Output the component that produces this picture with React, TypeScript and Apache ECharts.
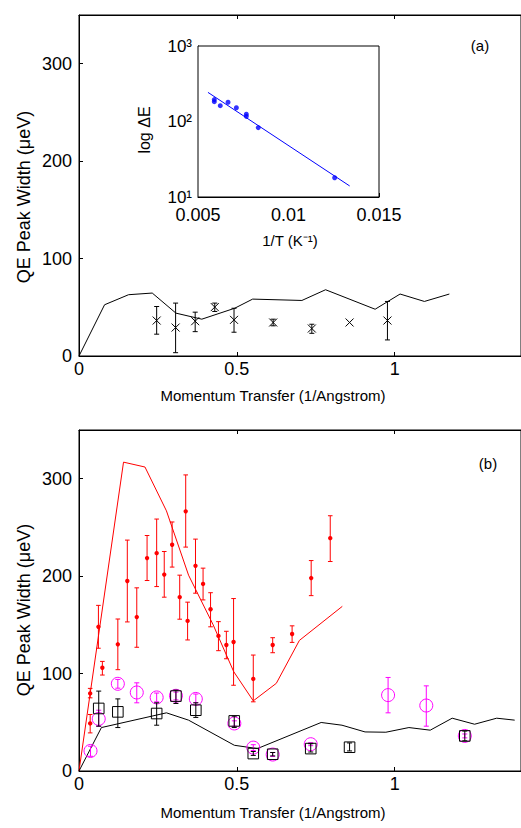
import React, { useEffect, useRef } from "react";
import * as echarts from "echarts";

// ---------- Panel (a) ----------
const aLineQ = [0, 0.081, 0.157, 0.232, 0.307, 0.389, 0.493, 0.55, 0.706, 0.781, 0.938, 1.017, 1.094, 1.173];
const aLineW = [0, 52.6, 62.9, 64.6, 44, 37.8, 49, 58.4, 57, 68, 48, 63.6, 56, 63.6];
const aPtQ = [0.246, 0.306, 0.368, 0.43, 0.491, 0.615, 0.7375, 0.857, 0.977];
const aPtW = [36.4, 29.2, 35.7, 50.2, 37.1, 34.4, 28.2, 34.4, 36.4];
const aPtLo = [22.4, 3.4, 25, 45.7, 24.4, 31, 23.3, 34.4, 16.5];
const aPtHi = [50.8, 54.3, 45, 54.3, 49, 37.8, 32.6, 34.4, 56];

// ---------- Inset ----------
const insInvT = [0.0059, 0.0059, 0.00623, 0.00666, 0.00712, 0.00767, 0.00767, 0.00833, 0.01255];
const insDE = [195, 183, 162, 180, 152, 125, 117, 83, 18];
const insFitT = [0.00555, 0.01338];
const insFitE = [243, 14];

// ---------- Panel (b) ----------
const bRedLineQ = [0, 0.141, 0.209, 0.277, 0.347, 0.425, 0.49, 0.552, 0.625, 0.698, 0.834];
const bRedLineW = [0, 317, 312, 267, 201, 150, 102, 72, 90, 134, 169];
const bBlkLineQ = [0, 0.071, 0.277, 0.347, 0.492, 0.565, 0.767, 0.833, 0.906, 0.972, 1.045, 1.1125, 1.182, 1.253, 1.323, 1.38];
const bBlkLineW = [0, 44.6, 59.7, 52.2, 26.4, 23, 49.8, 47, 40.1, 39.8, 44.6, 41.9, 54.2, 48, 54.2, 52.2];

const bRedQ = [0.0354, 0.0354, 0.0615, 0.074, 0.123, 0.153, 0.183, 0.2156, 0.246, 0.27, 0.295, 0.319, 0.338, 0.344, 0.369, 0.393, 0.4167, 0.4417, 0.4667, 0.4896, 0.552, 0.6135, 0.675, 0.7354, 0.7958];
const bRedW = [79.6, 48.8, 148, 106, 130, 195, 158, 218.5, 223.6, 201.6, 232.2, 178.4, 266.5, 154, 210.6, 192, 166, 138.6, 129.3, 132.4, 94.5, 129.3, 140.6, 198, 239];
const bRedLo = [75.1, 39.1, 126, 98.5, 104, 153, 127, 195.5, 189.3, 178.4, 209.3, 155.8, 229.8, 134.5, 182.5, 175.6, 148, 123.5, 115.2, 88, 71, 121.4, 132, 180, 215];
const bRedHi = [84.8, 58, 170, 112.5, 156, 237, 188, 241.7, 258.6, 225.3, 255.6, 201, 303.9, 173.3, 238, 208.2, 183, 153.3, 143.4, 177, 119, 136.8, 149, 216, 262];

const bMagQ = [0.0365, 0.0625, 0.123, 0.183, 0.246, 0.307, 0.37, 0.492, 0.552, 0.6135, 0.734, 0.979, 1.1, 1.222];
const bMagW = [20.6, 53.5, 89.5, 80.6, 75.5, 77.2, 74, 48.8, 24, 16.9, 27.5, 77.9, 67.2, 36];
const bMagLo = [15.1, 46, 85, 70, 71, 73, 70, 46, 21, 15, 26, 59.7, 46, 34];
const bMagHi = [25.4, 62.4, 94, 90.5, 80, 81, 79, 51.5, 27, 19, 29, 96, 87.4, 38];

const bSqQ = [0.0625, 0.123, 0.246, 0.307, 0.37, 0.4917, 0.552, 0.6135, 0.734, 0.857, 1.222];
const bSqW = [64.2, 60.7, 59, 76.9, 62.4, 51.4, 17.9, 17.2, 23, 24.4, 36];
const bSqLo = [46, 44.6, 47, 69.3, 55, 44.6, 16, 15.5, 19.5, 20.6, 31];
const bSqHi = [82, 74, 70, 83, 70, 56.3, 20, 19, 28, 28.8, 41];

const xTickLabels = [0, 0.5, 1];
const yTickLabels = [0, 100, 200, 300];

const FONT = '"Liberation Sans", Arial, Helvetica, sans-serif';
const TICK = 18;

const zip = (a: number[], b: number[]) => a.map((v, i) => [v, b[i]]);
const zip4 = (a: number[], b: number[], c: number[], d: number[]) => a.map((v, i) => [v, b[i], c[i], d[i]]);

function errSeries(data: number[][], color: string, marker: string, size: number, cap: number, xi: number, yi: number, z: number) {
  return {
    type: "custom",
    xAxisIndex: xi,
    yAxisIndex: yi,
    z,
    silent: true,
    data,
    encode: { x: 0, y: 1 },
    renderItem: (params: any, api: any) => {
      const x = api.value(0), y = api.value(1), lo = api.value(2), hi = api.value(3);
      const c = api.coord([x, y]);
      const a = api.coord([x, lo]);
      const b = api.coord([x, hi]);
      const st = { stroke: color, lineWidth: 1, fill: null };
      const children: any[] = [];
      if (hi > lo) {
        children.push({ type: "line", shape: { x1: a[0], y1: a[1], x2: b[0], y2: b[1] }, style: st });
        children.push({ type: "line", shape: { x1: a[0] - cap, y1: a[1], x2: a[0] + cap, y2: a[1] }, style: st });
        children.push({ type: "line", shape: { x1: b[0] - cap, y1: b[1], x2: b[0] + cap, y2: b[1] }, style: st });
      }
      if (marker === "dot") {
        children.push({ type: "circle", shape: { cx: c[0], cy: c[1], r: size }, style: { fill: color, stroke: null } });
      } else if (marker === "circle") {
        children.push({ type: "circle", shape: { cx: c[0], cy: c[1], r: size }, style: st });
      } else if (marker === "square") {
        children.push({ type: "rect", shape: { x: c[0] - size, y: c[1] - size, width: 2 * size, height: 2 * size }, style: st });
      } else if (marker === "cross") {
        children.push({ type: "line", shape: { x1: c[0] - size, y1: c[1] - size, x2: c[0] + size, y2: c[1] + size }, style: st });
        children.push({ type: "line", shape: { x1: c[0] - size, y1: c[1] + size, x2: c[0] + size, y2: c[1] - size }, style: st });
      }
      return { type: "group", children };
    },
  };
}

const axLine = { show: true, onZero: false, lineStyle: { color: "#000", width: 1 } };
const axTick = { show: true, inside: true, length: 4, lineStyle: { color: "#000", width: 1 } };

function mainX(grid: number, pos: string, labels: boolean) {
  return {
    type: "value",
    gridIndex: grid,
    position: pos,
    min: 0,
    max: 1.4,
    interval: 0.5,
    axisLine: axLine,
    axisTick: axTick,
    splitLine: { show: false },
    axisLabel: {
      show: labels,
      showMaxLabel: false,
      color: "#000",
      fontSize: TICK,
      fontFamily: FONT,
      margin: 4,
      formatter: (v: number) => (xTickLabels.some((t) => Math.abs(t - v) < 1e-9) ? String(v) : ""),
    },
  };
}

function mainY(grid: number) {
  return {
    type: "value",
    gridIndex: grid,
    min: 0,
    max: 350,
    interval: 100,
    axisLine: axLine,
    axisTick: axTick,
    splitLine: { show: false },
    axisLabel: {
      color: "#000",
      fontSize: TICK,
      fontFamily: FONT,
      margin: 7,
      showMaxLabel: false,
      formatter: (v: number) => (yTickLabels.includes(v) ? String(v) : ""),
    },
  };
}

function txt(text: string, x: number, y: number, size: number, rot = 0) {
  return {
    type: "text",
    x,
    y,
    rotation: rot,
    z: 100,
    style: {
      text,
      fill: "#000",
      font: `${size}px ${FONT}`,
      align: "center",
      verticalAlign: "middle",
      textAlign: "center",
      textVerticalAlign: "middle",
    },
  };
}

export default function App() {
  const ref = useRef<HTMLDivElement>(null);
  useEffect(() => {
    if (!ref.current) return;
    const chart = echarts.init(ref.current, undefined, { renderer: "svg" });
    const option: any = {
      animation: false,
      backgroundColor: "#fff",
      textStyle: { fontFamily: FONT },
      grid: [
        { left: 79, top: 15, width: 448, height: 341, show: true, borderColor: "#000", borderWidth: 1, backgroundColor: "transparent" },
        { left: 79, top: 430, width: 448, height: 341, show: true, borderColor: "#000", borderWidth: 1, backgroundColor: "transparent" },
        { left: 198, top: 46, width: 181, height: 151, show: true, borderColor: "#000", borderWidth: 1, backgroundColor: "#fff", z: 5 },
      ],
      xAxis: [
        mainX(0, "bottom", true),
        mainX(1, "bottom", true),
        mainX(0, "top", false),
        mainX(1, "top", false),
        {
          type: "value",
          gridIndex: 2,
          min: 0.005,
          max: 0.015,
          interval: 0.005,
          axisLine: axLine,
          axisTick: axTick,
          splitLine: { show: false },
          axisLabel: { color: "#000", fontSize: TICK, lineHeight: 14, fontFamily: FONT, margin: 11, hideOverlap: false },
        },
      ],
      yAxis: [
        mainY(0),
        mainY(1),
        {
          type: "log",
          gridIndex: 2,
          logBase: 10,
          min: 10,
          max: 1000,
          axisLine: axLine,
          axisTick: axTick,
          splitLine: { show: false },
          axisLabel: {
            color: "#000",
            fontSize: 17,
            lineHeight: 13,
            fontFamily: FONT,
            margin: 6,
            formatter: (v: number) => {
              const e = Math.round(Math.log10(v));
              return "10" + ["⁰", "¹", "²", "³"][e];
            },
          },
        },
      ],
      series: [
        {
          type: "line",
          xAxisIndex: 0,
          yAxisIndex: 0,
          data: zip(aLineQ, aLineW),
          showSymbol: false,
          symbol: "none",
          lineStyle: { color: "#000", width: 1 },
          z: 2,
        },
        errSeries(zip4(aPtQ, aPtW, aPtLo, aPtHi), "#000", "cross", 4, 2.5, 0, 0, 3),
        {
          type: "line",
          xAxisIndex: 1,
          yAxisIndex: 1,
          data: zip(bRedLineQ, bRedLineW),
          showSymbol: false,
          symbol: "none",
          lineStyle: { color: "#ff0000", width: 1 },
          z: 2,
        },
        {
          type: "line",
          xAxisIndex: 1,
          yAxisIndex: 1,
          data: zip(bBlkLineQ, bBlkLineW),
          showSymbol: false,
          symbol: "none",
          lineStyle: { color: "#000", width: 1 },
          z: 2,
        },
        errSeries(zip4(bRedQ, bRedW, bRedLo, bRedHi), "#ff0000", "dot", 2.2, 2.3, 1, 1, 3),
        errSeries(zip4(bMagQ, bMagW, bMagLo, bMagHi), "#ff00ff", "circle", 6.5, 2.5, 1, 1, 4),
        errSeries(zip4(bSqQ, bSqW, bSqLo, bSqHi), "#000", "square", 5.3, 2.5, 1, 1, 5),
        {
          type: "line",
          xAxisIndex: 4,
          yAxisIndex: 2,
          data: zip(insFitT, insFitE),
          showSymbol: false,
          symbol: "none",
          lineStyle: { color: "#0000ff", width: 1 },
          z: 10,
        },
        {
          type: "scatter",
          xAxisIndex: 4,
          yAxisIndex: 2,
          data: zip(insInvT, insDE),
          symbol: "circle",
          symbolSize: 5,
          itemStyle: { color: "#0000ff" },
          z: 11,
        },
      ],
      graphic: [
        txt("QE Peak Width (μeV)", 24, 197, 18, Math.PI / 2),
        txt("QE Peak Width (μeV)", 24, 610, 18, Math.PI / 2),
        txt("Momentum Transfer (1/Angstrom)", 273, 395, 15),
        txt("Momentum Transfer (1/Angstrom)", 273, 812, 15),
        txt("(a)", 480, 45, 15),
        txt("(b)", 488, 463, 15),
        txt("log ΔE", 144, 130, 16, Math.PI / 2),
        txt("1/T (K⁻¹)", 290, 240, 15),
      ],
    };
    chart.setOption(option);
    return () => chart.dispose();
  }, []);
  return <div ref={ref} style={{ position: "absolute", left: 0, top: 0, width: 521, height: 828 }} />;
}
